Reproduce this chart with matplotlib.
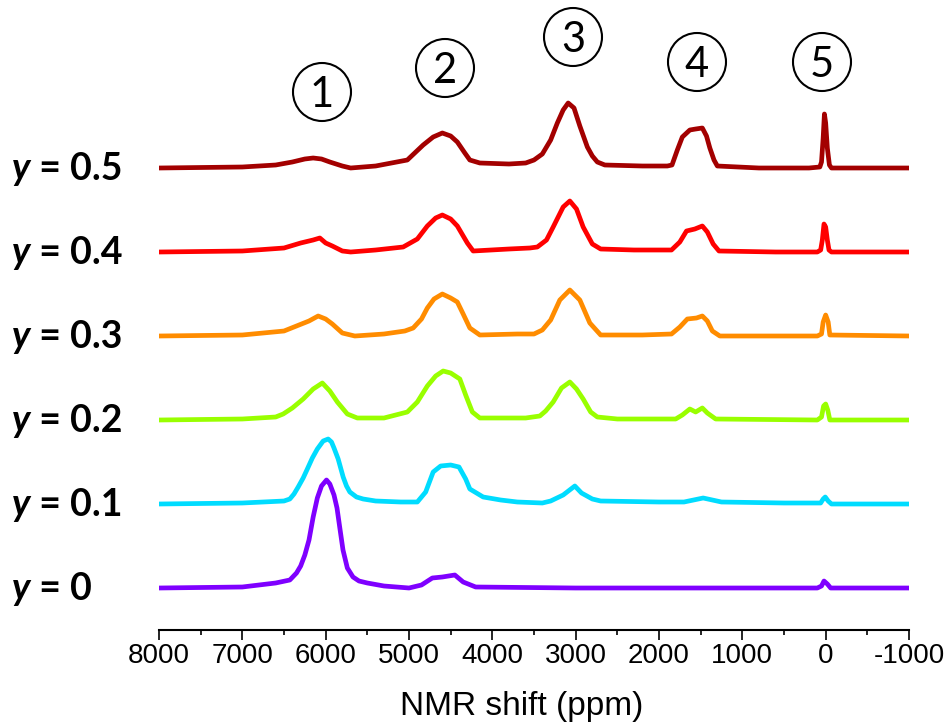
import matplotlib.pyplot as plt
from matplotlib import font_manager
from matplotlib.patches import Ellipse

# sample compositions, bottom to top
labels = ['0', '0.1', '0.2', '0.3', '0.4', '0.5']
colors = ['#7f00ff', '#00dcff', '#99ff00', '#ff8c00', '#ff0000', '#a30000']

# spectra: shift (ppm) and intensity (a.u.)
ppm_00 = [8000, 7000, 6800, 6600, 6430, 6350, 6300, 6250, 6200, 6150, 6100, 6050, 5990, 5950,
          5900, 5864, 5830, 5792, 5740, 5672, 5600, 5500, 5300, 5000, 4850, 4720, 4600, 4450,
          4350, 4200, 3000, 100, 50, 20, -20, -60, -1000]
int_00 = [0, 1, 3, 5, 8, 15, 22, 33, 48, 71, 90, 102, 108, 104,
          93, 80, 60, 38, 20, 11, 7, 5, 2, 0, 3, 10, 11, 13,
          6, 1, 0, 0, 2, 7, 4, 0, 0]

ppm_01 = [8000, 7000, 6500, 6430, 6380, 6330, 6270, 6220, 6160, 6100, 6030, 5970, 5930, 5900,
          5850, 5790, 5750, 5710, 5630, 5550, 5400, 5100, 4900, 4800, 4710, 4620, 4500, 4400,
          4320, 4270, 4110, 3900, 3700, 3400, 3300, 3150, 3010, 2930, 2800, 2700, 2000, 1700,
          1470, 1250, 500, 60, 30, 5, -30, -70, -1000]
int_01 = [0, 1, 3, 5, 10, 17, 26, 35, 46, 55, 63, 65, 62, 56,
          45, 27, 18, 12, 7, 5, 3, 2, 2, 12, 32, 38, 39, 37,
          25, 15, 7, 4, 2, 1, 3, 9, 18, 11, 5, 3, 2, 2,
          6, 2, 1, 1, 5, 7, 3, 0, 0]

ppm_02 = [8000, 7000, 6600, 6510, 6400, 6270, 6150, 6040, 5950, 5860, 5740, 5620, 5300, 5020,
          4900, 4780, 4680, 4590, 4500, 4390, 4320, 4240, 4150, 3600, 3430, 3360, 3270, 3170,
          3070, 2990, 2910, 2820, 2740, 2500, 1800, 1720, 1630, 1560, 1480, 1420, 1320, 100,
          50, 25, 0, -25, -50, -1000]
int_02 = [0, 1, 3, 6, 12, 21, 31, 37, 29, 18, 6, 2, 2, 8,
          18, 34, 44, 49, 47, 41, 25, 8, 2, 2, 4, 9, 18, 32,
          38, 31, 21, 8, 3, 1, 1, 5, 11, 8, 12, 7, 1, 0,
          3, 14, 16, 10, 0, 0]

ppm_03 = [8000, 7000, 6500, 6350, 6200, 6090, 6000, 5920, 5800, 5650, 5300, 5050, 4950, 4850,
          4780, 4700, 4600, 4500, 4420, 4350, 4270, 4150, 3700, 3500, 3400, 3300, 3190, 3070,
          2950, 2830, 2700, 2200, 1850, 1750, 1660, 1550, 1480, 1420, 1360, 1270, 100, 50,
          30, 0, -30, -50, -1000]
int_03 = [0, 1, 5, 10, 15, 20, 17, 12, 3, 0, 2, 5, 8, 17,
          28, 37, 42, 38, 34, 22, 8, 1, 2, 2, 6, 16, 36, 46,
          36, 13, 1, 1, 2, 9, 17, 18, 20, 15, 5, 0, 0, 2,
          14, 21, 14, 1, 0]

ppm_04 = [8000, 7000, 6500, 6300, 6150, 6070, 6000, 5920, 5800, 5700, 5400, 5070, 4900, 4780,
          4680, 4600, 4500, 4420, 4300, 4230, 3800, 3550, 3460, 3350, 3270, 3150, 3070, 2990,
          2910, 2800, 2700, 2300, 1850, 1750, 1670, 1570, 1480, 1420, 1350, 1280, 600, 100,
          60, 40, 20, 0, -20, -40, -70, -1000]
int_04 = [0, 1, 4, 9, 12, 14, 9, 6, 1, 0, 2, 5, 13, 26,
          34, 37, 33, 26, 9, 1, 3, 4, 5, 12, 25, 45, 51, 43,
          25, 8, 3, 2, 2, 10, 21, 23, 26, 20, 8, 1, 0, 0,
          2, 12, 28, 25, 12, 2, 0, 0]

ppm_05 = [8000, 7000, 6600, 6400, 6250, 6150, 6050, 5950, 5800, 5700, 5400, 5020, 4830, 4710,
          4600, 4500, 4420, 4330, 4270, 4150, 3800, 3600, 3500, 3400, 3300, 3220, 3150, 3090,
          3020, 2950, 2860, 2800, 2740, 2650, 2200, 1900, 1844, 1780, 1720, 1630, 1560, 1480,
          1430, 1390, 1340, 1300, 800, 200, 70, 50, 30, 15, 0, -20, -45, -70, -500, -1000]
int_05 = [0, 1, 3, 6, 9, 10, 9, 6, 2, 0, 2, 8, 23, 31,
          35, 32, 26, 15, 8, 5, 4, 5, 8, 14, 28, 45, 58, 65,
          60, 42, 21, 12, 6, 3, 2, 2, 3, 18, 31, 38, 39, 40,
          32, 20, 8, 2, 0, 0, 1, 6, 30, 54, 45, 20, 3, 0, 0, 0]

spectra = [(ppm_00, int_00), (ppm_01, int_01), (ppm_02, int_02),
           (ppm_03, int_03), (ppm_04, int_04), (ppm_05, int_05)]

peak_names = ['1', '2', '3', '4', '5']

fig = plt.figure(figsize=(9.52, 7.28), dpi=100)
ax = fig.add_axes([159/952, 98/728, 750/952, 630/728])

step = 84   # vertical offset between stacked spectra
base = 42
for i, (x, y) in enumerate(spectra):
    off = base + i*step
    ax.plot(x, [v + off for v in y], color=colors[i], lw=3.4, solid_joinstyle='round')
    t = ax.text(-0.196, off - 12, 'y', transform=ax.get_yaxis_transform(),
                ha='left', va='baseline', fontsize=27, fontfamily='Lato',
                fontweight='bold', fontstyle='italic')
    ax.annotate(' = ' + labels[i], xy=(1, 0), xycoords=t, ha='left', va='bottom',
                fontsize=27, fontfamily='Lato', fontweight='bold')

ax.set_xlim(8000, -1000)
ax.set_ylim(0, 630)
ax.set_xticks(range(8000, -1001, -1000))
ax.set_xticks(range(7500, -1000, -1000), minor=True)
ax.set_xticklabels(['8000', '7000', '6000', '5000', '4000', '3000', '2000', '1000', '0', '-1000'])
ax.tick_params(axis='x', which='major', direction='out', length=7.5, width=1.2, pad=2,
               labelsize=20)
ax.tick_params(axis='x', which='minor', direction='out', length=3.8, width=1.2)
for lab in ax.get_xticklabels():
    lab.set_fontfamily('Liberation Sans')
ax.set_yticks([])
for s in ['left', 'right', 'top']:
    ax.spines[s].set_visible(False)
ax.spines['bottom'].set_linewidth(1.5)

# condensed face for the axis title if there is one
names = {f.name for f in font_manager.fontManager.ttflist}
if 'Liberation Sans Narrow' in names:
    xl_font, xl_size = 'Liberation Sans Narrow', 28
else:
    xl_font, xl_size = 'Liberation Sans', 24
fig.text(522/952, 1 - 715/728, 'NMR shift (ppm)', ha='center', va='baseline',
         fontsize=xl_size, fontfamily=xl_font)

# circled peak numbers
centers = [(322, 92), (445, 68), (573, 37), (697, 62), (822, 62)]
for name, (cx, cy) in zip(peak_names, centers):
    fig.patches.append(Ellipse((cx/952, 1 - cy/728), 58/952, 58/728, transform=fig.transFigure,
                               fill=False, ec='black', lw=1.5))
    fig.text(cx/952, 1 - (cy + 15)/728, name, ha='center', va='baseline', fontsize=30,
             fontfamily='Lato')

fig.savefig('out.png', dpi=100)
